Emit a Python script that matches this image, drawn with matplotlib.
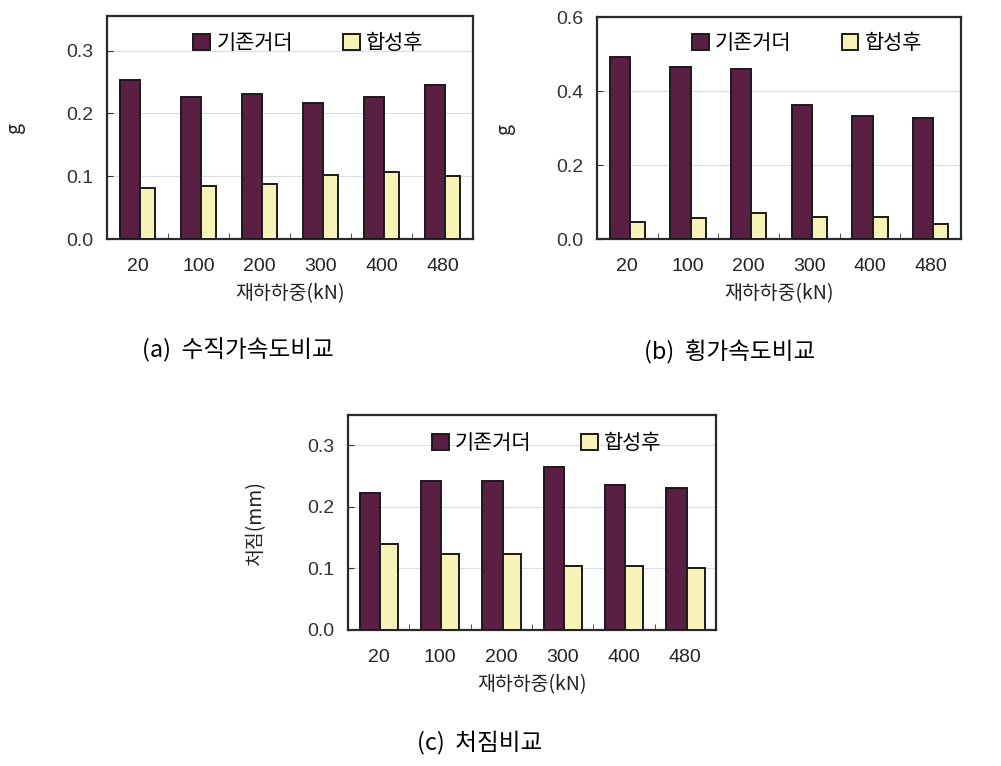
import numpy as np
import matplotlib.pyplot as plt

plt.rcParams['font.family'] = ['Noto Sans CJK KR', 'DejaVu Sans']

loads = ["20", "100", "200", "300", "400", "480"]

vert_before = [0.253, 0.226, 0.231, 0.217, 0.226, 0.245]
vert_after = [0.081, 0.084, 0.087, 0.102, 0.106, 0.100]

horiz_before = [0.491, 0.465, 0.460, 0.362, 0.332, 0.328]
horiz_after = [0.046, 0.056, 0.070, 0.060, 0.060, 0.041]

defl_before = [0.223, 0.242, 0.242, 0.265, 0.235, 0.231]
defl_after = [0.140, 0.123, 0.123, 0.104, 0.104, 0.100]

DARK = "#5a1f42"
LIGHT = "#f7f3b6"
EDGE = "#1a1a1a"
W, H = 1001, 766


def draw_panel(ax, before, after, ylabel, ylim, yticks, leg_pos, light_w=0.25):
    x = np.arange(len(loads))
    dark_w = 0.335
    half = (dark_w + light_w) / 2
    ax.bar(x - half, before, width=dark_w, align="edge", color=DARK,
           edgecolor=EDGE, linewidth=1.4, label="기존거더", zorder=3)
    ax.bar(x - half + dark_w, after, width=light_w, align="edge", color=LIGHT,
           edgecolor=EDGE, linewidth=1.4, label="합성후", zorder=3)
    ax.set_xlim(-0.5, len(loads) - 0.5)
    ax.set_ylim(*ylim)
    ax.set_yticks(yticks)
    ax.set_yticklabels([f"{t:.1f}" for t in yticks], fontsize=14,
                       family="Liberation Sans", color="#333333")
    ax.set_xticks(x)
    ax.set_xticklabels(loads, fontsize=14, family="Liberation Sans", color="#222222")
    ax.tick_params(axis="x", length=0, pad=14)
    ax.set_xticks(np.arange(0.5, len(loads) - 0.5), minor=True)
    ax.tick_params(axis="x", which="minor", direction="in", length=4, color="#333333")
    ax.tick_params(axis="y", direction="in", length=4, color="#333333", pad=10)
    ax.yaxis.grid(True, color="#dcdce4", linewidth=0.8, zorder=0)
    for sp in ax.spines.values():
        sp.set_linewidth(1.6)
        sp.set_color("#2a2a2a")
    pos = ax.get_position()
    width_px = pos.width * W
    height_px = pos.height * H
    ax.set_xlabel("재하하중(kN)", fontsize=14, color="#222222")
    ax.xaxis.set_label_coords(0.5, -55 / height_px)
    ax.xaxis.label.set_va("center")
    ax.set_ylabel(ylabel, fontsize=14, color="#222222")
    ax.yaxis.set_label_coords(-82 / width_px, 0.5)
    ax.legend(loc="center", ncol=2, frameon=False, fontsize=15,
              handlelength=0.8, handleheight=0.8, columnspacing=2.4,
              handletextpad=0.3, bbox_to_anchor=leg_pos)


fig = plt.figure(figsize=(10.01, 7.66), dpi=100)

ax_a = fig.add_axes([107 / W, 1 - 239 / H, 366 / W, 223 / H])
draw_panel(ax_a, vert_before, vert_after, "g", (0, 0.355), [0.0, 0.1, 0.2, 0.3],
           (0.55, 0.879))

ax_b = fig.add_axes([597 / W, 1 - 239 / H, 364 / W, 222 / H])
draw_panel(ax_b, horiz_before, horiz_after, "g", (0, 0.6), [0.0, 0.2, 0.4, 0.6],
           (0.577, 0.883))

ax_c = fig.add_axes([348 / W, 1 - 630 / H, 368 / W, 215 / H])
draw_panel(ax_c, defl_before, defl_after, "처짐(mm)", (0, 0.349), [0.0, 0.1, 0.2, 0.3],
           (0.54, 0.87), light_w=0.29)

fig.text(238 / W, 1 - 350 / H, "(a)  수직가속도비교", ha="center", va="center", fontsize=17)
fig.text(730 / W, 1 - 352 / H, "(b)  횡가속도비교", ha="center", va="center", fontsize=17)
fig.text(480 / W, 1 - 743 / H, "(c)  처짐비교", ha="center", va="center", fontsize=17)

fig.savefig("out.png", dpi=100)
